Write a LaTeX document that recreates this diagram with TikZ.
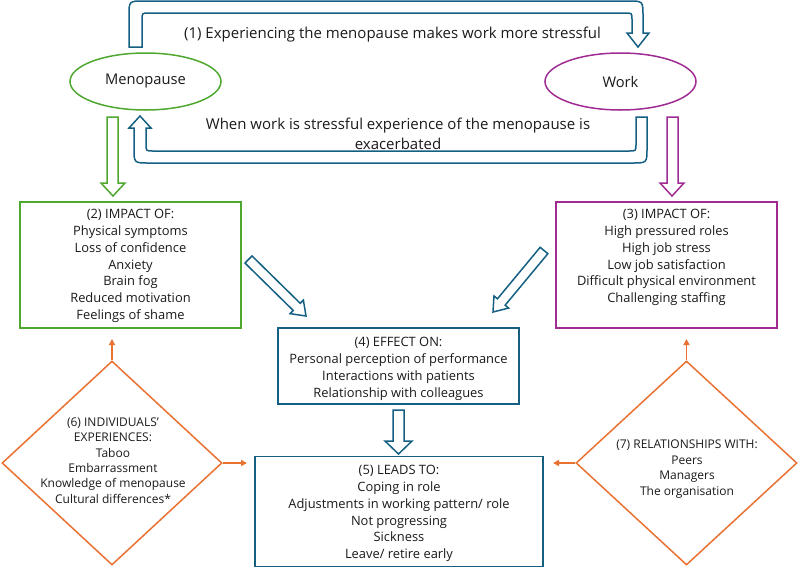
\documentclass[tikz,border=0pt]{standalone}
\usepackage{fontspec}
\setmainfont{Open Sans}
\usetikzlibrary{calc,arrows.meta,shapes.geometric}
\definecolor{cblue}{HTML}{156082}
\definecolor{cgreen}{HTML}{4EA72E}
\definecolor{cmag}{HTML}{A02B93}
\definecolor{corange}{HTML}{E97132}
\definecolor{ctext}{HTML}{1A1A1A}
\tikzset{
  blockarrow/.style={line width=1.5pt, line join=miter},
  ellnode/.style={ellipse, line width=1.5pt, inner sep=0pt, text=ctext,
    font=\fontsize{14.7}{17}\selectfont},
  boxnode/.style={rectangle, line width=1.5pt, inner sep=0pt},
  dianode/.style={diamond, draw=corange, line width=1.5pt, inner sep=0pt},
  boxtext/.style={align=center, text=ctext, inner sep=0pt,
    font=\fontsize{12.9}{16.8}\selectfont},
  diatext/.style={align=center, text=ctext, inner sep=0pt,
    font=\fontsize{12}{15.4}\selectfont},
  toptext/.style={align=center, text=ctext, inner sep=0pt,
    font=\fontsize{15}{20}\selectfont},
  oarrow/.style={draw=corange, line width=1.5pt,
    -{Triangle[length=6pt,width=6pt]}},
}
\newcommand\diagarrow[3]{%
  \coordinate (da-h) at ($(#2)!13pt!(#1)$);
  \draw[blockarrow,#3] ($(#1)!5pt!90:(#2)$) -- ($(da-h)!5pt!90:(#2)$)
    -- ($(da-h)!9.5pt!90:(#2)$) -- (#2) -- ($(da-h)!9.5pt!-90:(#2)$)
    -- ($(da-h)!5pt!-90:(#2)$) -- ($(#1)!5pt!-90:(#2)$) -- cycle;
}
\begin{document}
\begin{tikzpicture}[x=1pt,y=-1pt]
\useasboundingbox (0,0) rectangle (798,568);

% ellipses
\node[ellnode, draw=cgreen, minimum width=151, minimum height=57] (meno) at (145.5,81.5) {Menopause};
\node[ellnode, draw=cmag, minimum width=151, minimum height=57] (work) at (620.5,81.5) {Work};

% top loop arrow (1)
\draw[blockarrow, cblue] (129,47) -- (129,16) .. controls (129,1) .. (144,1)
  -- (628,1) .. controls (643,1) .. (643,16) -- (643,33) -- (649,33)
  -- (638,47) -- (627,33) -- (632,33) -- (632,20) .. controls (632,13) .. (625,13)
  -- (149,13) .. controls (142,13) .. (142,20) -- (142,47) -- cycle;
\node[toptext] (lab1) at (392.5,35) {(1) Experiencing the menopause makes work more stressful};

% bottom loop arrow
\draw[blockarrow, cblue] (647,117) -- (647,148) .. controls (647,163) .. (632,163)
  -- (149,163) .. controls (134,163) .. (134,148) -- (134,128) -- (129,128)
  -- (140,116) -- (151,128) -- (146,128) -- (146,144) .. controls (146,151) .. (153,151)
  -- (629,151) .. controls (636,151) .. (636,144) -- (636,117) -- cycle;
\node[toptext] (lab2) at (398,134) {When work is stressful experience of the menopause is\\exacerbated};

% vertical block arrows
\draw[blockarrow, cgreen] (107,117) -- (118,117) -- (118,183) -- (125,183) -- (113,196)
  -- (101,183) -- (107,183) -- cycle;
\draw[blockarrow, cmag] (667,117) -- (678,117) -- (678,183) -- (684,183) -- (672,196)
  -- (660,183) -- (667,183) -- cycle;

% boxes
\node[boxnode, draw=cgreen, minimum width=221, minimum height=126] (b2) at (130.5,265) {};
\node[boxtext] (t2) at (130.5,266) {(2) IMPACT OF:\\Physical symptoms\\Loss of confidence\\Anxiety\\Brain fog\\Reduced motivation\\Feelings of shame};

\node[boxnode, draw=cmag, minimum width=221, minimum height=126] (b3) at (666.5,265) {};
\node[boxtext] (t3) at (666.5,257.5) {(3) IMPACT OF:\\High pressured roles\\High job stress\\Low job satisfaction\\Difficult physical environment\\Challenging staffing};

\node[boxnode, draw=cblue, minimum width=241, minimum height=76] (b4) at (398.5,366) {};
\node[boxtext] (t4) at (398.5,369) {(4) EFFECT ON:\\Personal perception of performance\\Interactions with patients\\Relationship with colleagues};

\node[boxnode, draw=cblue, minimum width=288, minimum height=110] (b5) at (399,511.5) {};
\node[boxtext] (t5) at (399,513.5) {(5) LEADS TO:\\Coping in role\\Adjustments in working pattern/ role\\Not progressing\\Sickness\\Leave/ retire early};

% diagonal and 4->5 arrows
\coordinate (dlA) at (248.5,259.5);
\coordinate (dlB) at (306,316);
\coordinate (drA) at (544,250.5);
\coordinate (drB) at (493,312);
\diagarrow{dlA}{dlB}{cblue}
\diagarrow{drA}{drB}{cblue}
\draw[blockarrow, cblue] (393,410) -- (404,410) -- (404,441) -- (412,441) -- (398.5,454)
  -- (385,441) -- (393,441) -- cycle;

% diamonds
\node[dianode, minimum width=220, minimum height=204] (d6) at (112,463) {};
\node[diatext] (t6) at (113,460.5) {(6) INDIVIDUALS’\\EXPERIENCES:\\Taboo\\Embarrassment\\Knowledge of menopause\\Cultural differences*};
\node[dianode, minimum width=221, minimum height=204] (d7) at (686.5,463) {};
\node[diatext] (t7) at (687,469) {(7) RELATIONSHIPS WITH:\\Peers\\Managers\\The organisation};

\coordinate (u6) at (112,339);
\coordinate (r6) at (247,463);
\coordinate (u7) at (686.5,339);
\coordinate (l7) at (553,463);
\draw[oarrow] (d6.north) -- (u6);
\draw[oarrow] (d6.east) -- (r6);
\draw[oarrow] (d7.north) -- (u7);
\draw[oarrow] (d7.west) -- (l7);
\end{tikzpicture}
\end{document}
